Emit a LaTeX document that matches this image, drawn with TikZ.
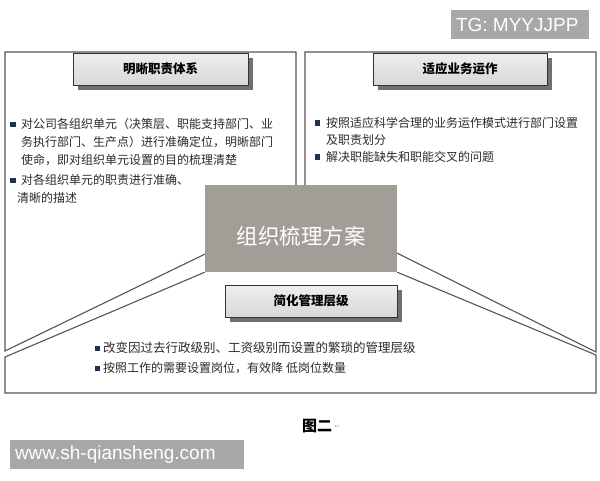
\documentclass[tikz,border=0pt]{standalone}
\usepackage{fontspec}
\setmainfont{Liberation Sans}
\newfontfamily\cjk{Noto Sans CJK SC}
\newfontfamily\symfont{DejaVu Sans}
\usetikzlibrary{shadows,calc}
\definecolor{panelline}{HTML}{555555}
\definecolor{titleborder}{HTML}{333333}
\definecolor{shadowgray}{HTML}{707070}
\definecolor{tbtop}{HTML}{EEEEEE}
\definecolor{tbbot}{HTML}{D8D8D8}
\definecolor{centerfill}{HTML}{A39D97}
\definecolor{bulletblue}{HTML}{1F3350}
\definecolor{bodytext}{HTML}{2B2B2B}
\definecolor{wmgray}{HTML}{A8A8A8}
\begin{document}
\begin{tikzpicture}[x=1pt,y=-1pt,
  panel/.style={draw=panelline, line width=1.1pt, line join=miter},
  titlebox/.style={draw=titleborder, line width=1pt, top color=tbtop, bottom color=tbbot,
    minimum width=175pt, minimum height=32pt, inner sep=0pt,
    font=\cjk\bfseries\fontsize{12.5}{14}\selectfont, text=black,
    drop shadow={shadow xshift=5pt, shadow yshift=-5pt, fill=shadowgray, opacity=1}},
  centerbox/.style={fill=centerfill, draw=none, minimum width=192pt, minimum height=87pt, inner sep=0pt},
  centertext/.style={font=\cjk\fontsize{21.5}{24}\selectfont, text=white, inner sep=0pt},
  bodyline/.style={anchor=base west, inner sep=0pt, font=\cjk\fontsize{12}{14}\selectfont, text=bodytext},
  bullet/.style={fill=bulletblue, draw=none, minimum size=5.5pt, inner sep=0pt},
  watermark/.style={fill=wmgray, draw=none, inner sep=0pt},
  wmtext/.style={anchor=west, inner sep=0pt, text=white, font=\fontsize{19}{22}\selectfont},
]
\useasboundingbox (0,0) rectangle (600,480);
\fill[white] (0,0) rectangle (600,480);

% centre box
\node[centerbox] (c) at (301,228.5) {};
\coordinate (lt) at ($(c.north)+(-5,0)$);
\coordinate (rt) at ($(c.north)+(4,0)$);
\coordinate (lu) at ($(c.south west)+(0,-18)$);
\coordinate (ru) at ($(c.south east)+(0,-19)$);
\coordinate (ptl) at (5,52);
\coordinate (ptr) at (596,52);
\coordinate (plm) at (296,52);
\coordinate (prm) at (305,52);
\coordinate (plb) at (5,351);
\coordinate (prb) at (596,352);
\coordinate (blt) at (5,357);
\coordinate (brt) at (596,355);
\coordinate (blb) at (5,393);
\coordinate (brb) at (596,393);

% panels
\draw[panel] (lt) -- (plm) -- (ptl) -- (plb) -- (lu);
\draw[panel] (rt) -- (prm) -- (ptr) -- (prb) -- (ru);
\draw[panel] (c.south west) -- (blt) -- (blb) -- (brb) -- (brt) -- (c.south east);

\node[centertext] (ct) at ($(c.center)+(0,8)$) {组织梳理方案};

% titles
\node[titlebox] (t1) at (160.5,69) {明晰职责体系};
\node[titlebox, minimum width=174pt] (t2) at (460,69) {适应业务运作};
\node[titlebox, minimum width=172pt] (t3) at (311,301) {简化管理层级};

% left text
\node[bullet] (lb1) at (13,124.5) {};
\node[bodyline] (l1) at (21,128.6) {对公司各组织单元（决策层、职能支持部门、业};
\node[bodyline] (l2) at (21,146.6) {务执行部门、生产点）进行准确定位，明晰部门};
\node[bodyline] (l3) at (21,164.6) {使命，即对组织单元设置的目的梳理清楚};
\node[bullet] (lb2) at (13,180.5) {};
\node[bodyline] (l4) at (21,184.6) {对各组织单元的职责进行准确、};
\node[bodyline] (l5) at (17,202.6) {清晰的描述};

% right text
\node[bullet] (rb1) at (317.5,123) {};
\node[bodyline] (r1) at (326,127) {按照适应科学合理的业务运作模式进行部门设置};
\node[bodyline] (r2) at (326,144) {及职责划分};
\node[bullet] (rb2) at (317.5,157) {};
\node[bodyline] (r3) at (326,161) {解决职能缺失和职能交叉的问题};

% bottom text
\node[bullet] (bb1) at (97.5,348.5) {};
\node[bodyline, font=\cjk\fontsize{12.5}{14}\selectfont] (b1) at (103,352.8) {改变因过去行政级别、工资级别而设置的繁琐的管理层级};
\node[bullet] (bb2) at (97.5,368.5) {};
\node[bodyline] (b2) at (103,372.5) {按照工作的需要设置岗位，有效降\hspace{3pt}低岗位数量};

% caption
\node[anchor=base west, inner sep=0pt, font=\cjk\bfseries\fontsize{15}{17}\selectfont, text=black] (cap) at (302,431) {图二};
\node[anchor=west, inner sep=0pt, font=\symfont\fontsize{6}{7}\selectfont, text=gray!70] (capmark) at ($(cap.east)+(2,1)$) {↵};

% watermarks
\node[watermark, minimum width=138pt, minimum height=29pt] (tg) at (520,24.5) {};
\node[wmtext] (tgt) at ($(tg.west)+(5,0)$) {TG: MYYJJPP};
\node[watermark, minimum width=234pt, minimum height=29pt] (www) at (127,454.5) {};
\node[wmtext] (wwwt) at ($(www.west)+(5,0)$) {www.sh-qiansheng.com};
\end{tikzpicture}
\end{document}
